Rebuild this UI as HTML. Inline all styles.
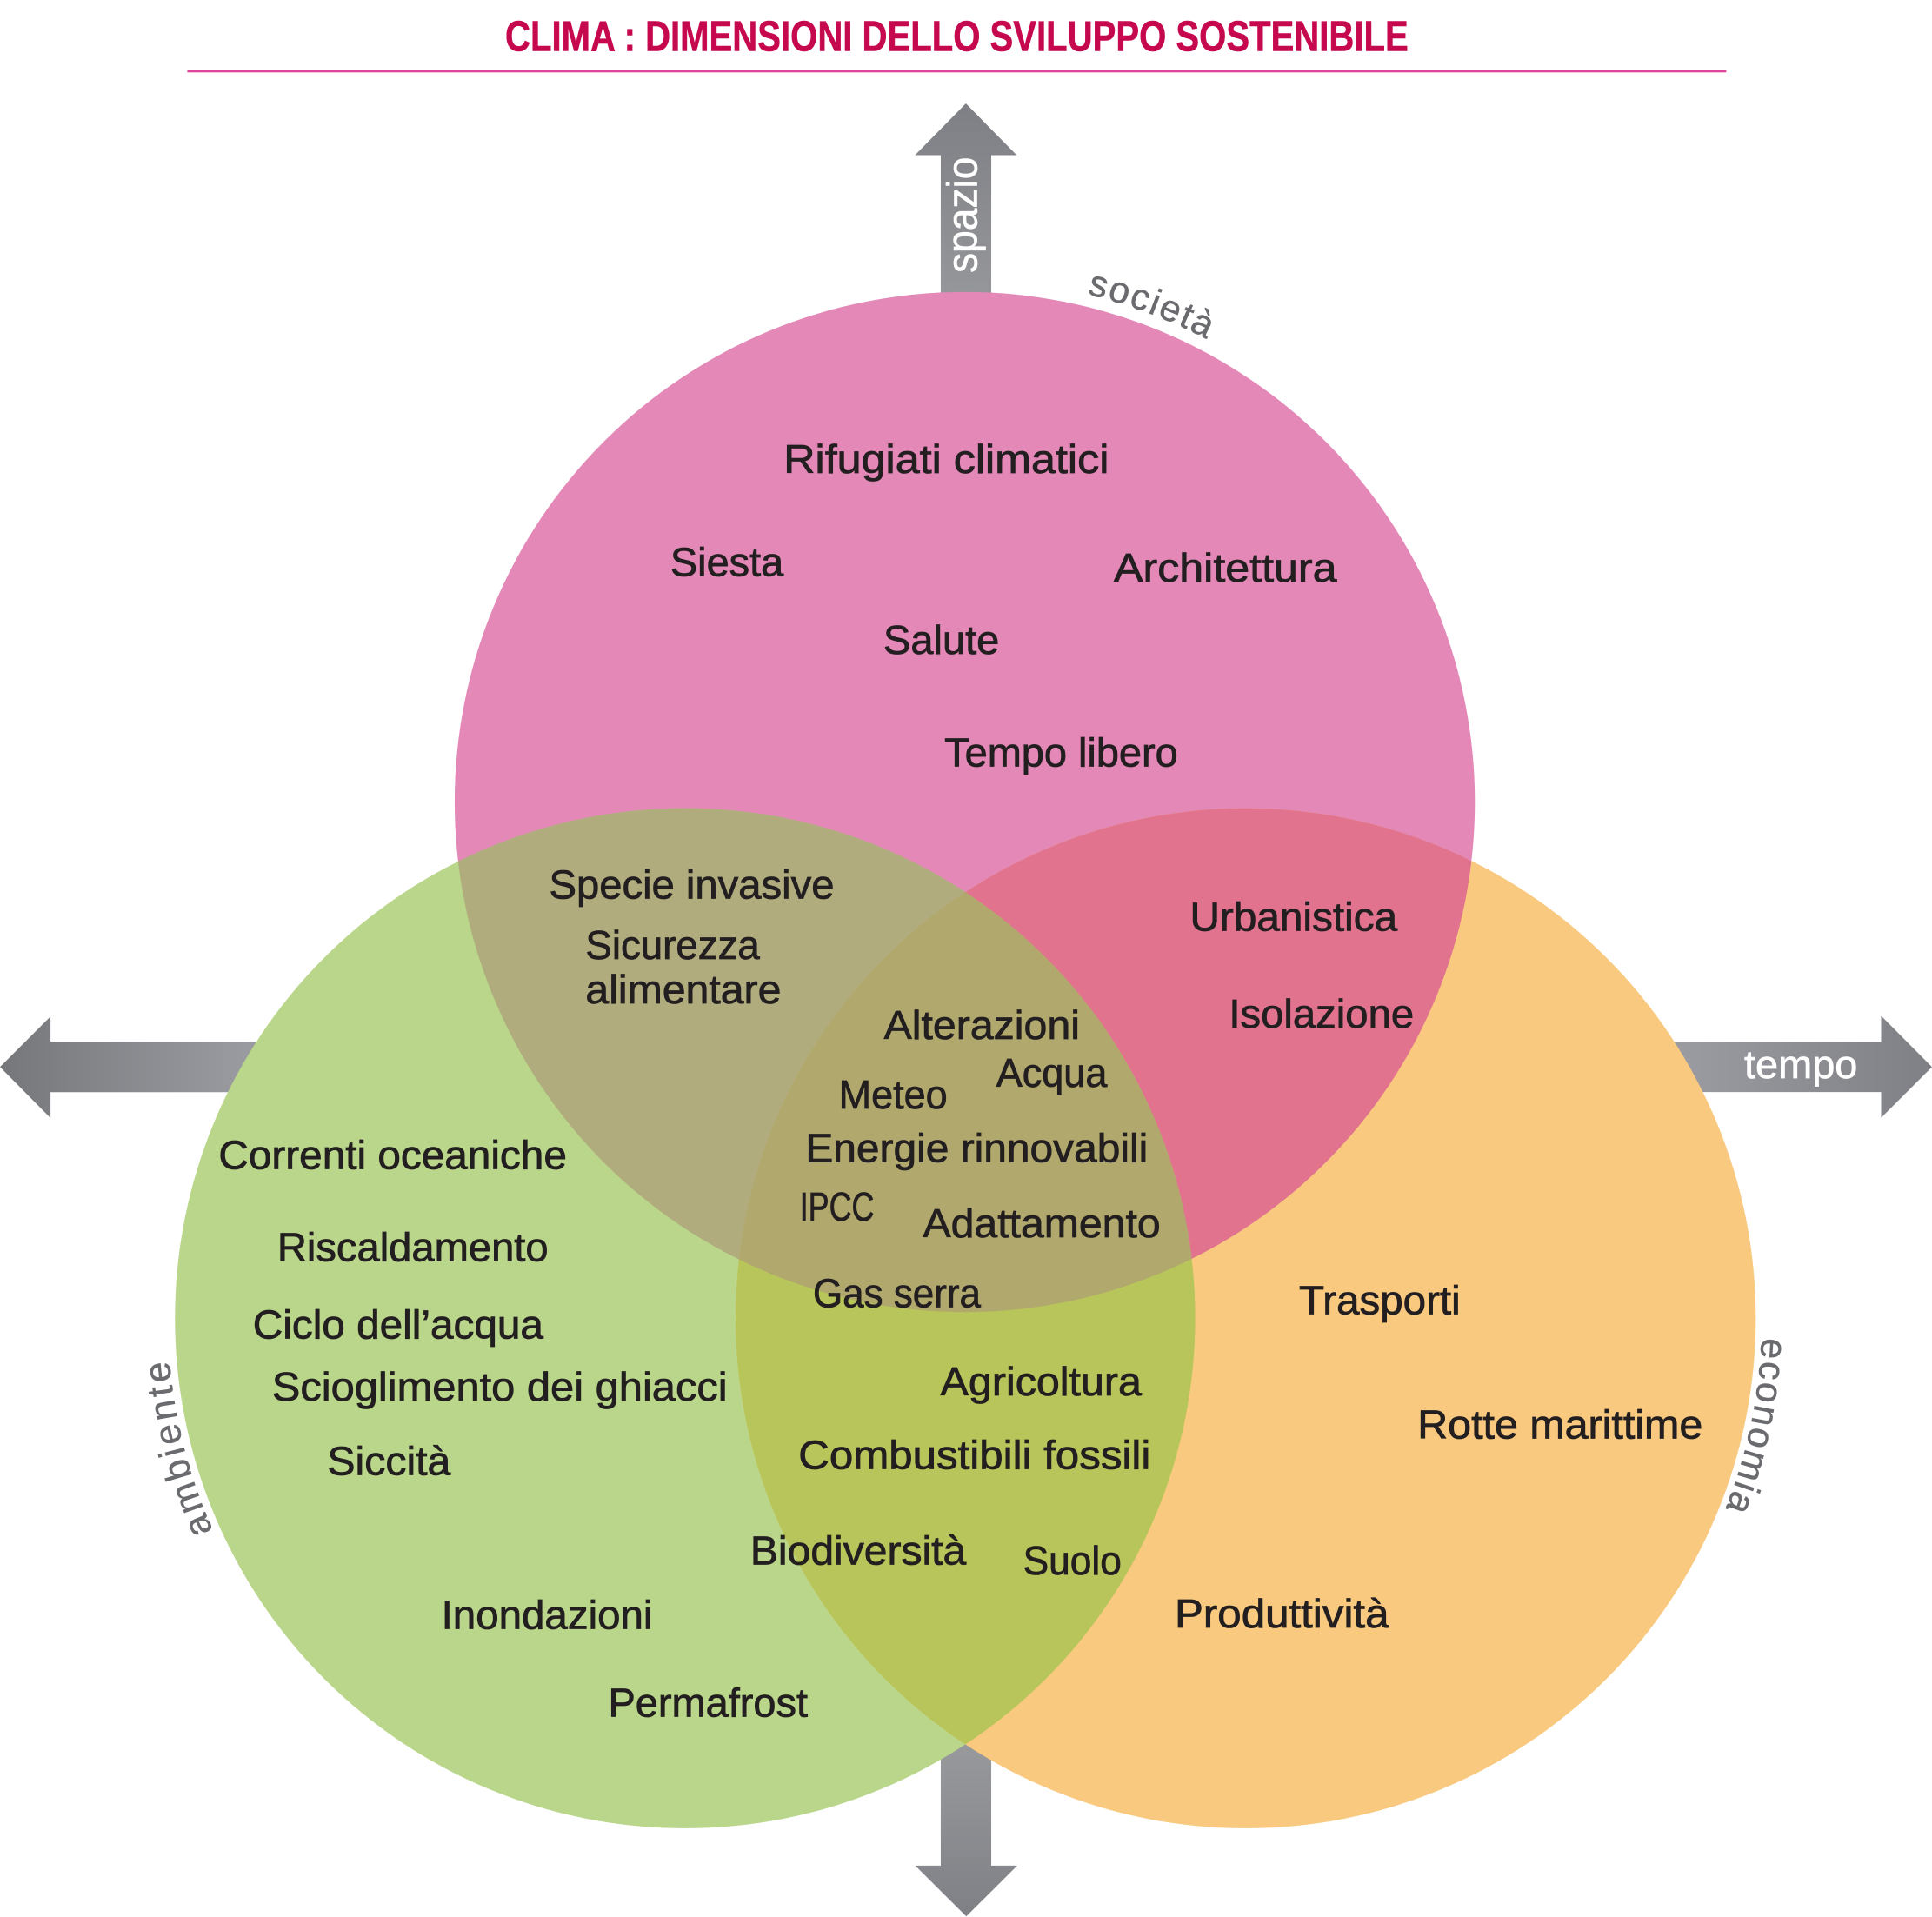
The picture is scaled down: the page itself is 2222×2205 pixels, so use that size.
<!DOCTYPE html>
<html>
<head>
<meta charset="utf-8">
<style>
  html, body { margin: 0; padding: 0; background: #ffffff; }
  body { width: 2222px; height: 2205px; overflow: hidden; }
  svg { display: block; }
  .lbl { font-family: "Liberation Sans", "DejaVu Sans", sans-serif; font-size: 33px; fill: #231F20; stroke: #231F20; stroke-width: 0.55px; }
  .axis { font-family: "Liberation Sans", "DejaVu Sans", sans-serif; fill: #ffffff; stroke: #ffffff; stroke-width: 0.45px; }
  .dim { font-family: "Liberation Sans", "DejaVu Sans", sans-serif; font-size: 30px; fill: #6A6B6F; stroke: #6A6B6F; stroke-width: 0.35px; }
</style>
</head>
<body>
<svg xmlns="http://www.w3.org/2000/svg" width="2222" height="2205" viewBox="0 0 1568 1556" preserveAspectRatio="none">
  <defs>
    <linearGradient id="gUp" gradientUnits="userSpaceOnUse" x1="0" y1="84" x2="0" y2="237">
      <stop offset="0" stop-color="#7E7F84"/>
      <stop offset="1" stop-color="#95969A"/>
    </linearGradient>
    <linearGradient id="gDown" gradientUnits="userSpaceOnUse" x1="0" y1="1416" x2="0" y2="1555">
      <stop offset="0" stop-color="#98999D"/>
      <stop offset="1" stop-color="#7F8085"/>
    </linearGradient>
    <linearGradient id="gLeft" gradientUnits="userSpaceOnUse" x1="0" y1="0" x2="200" y2="0">
      <stop offset="0" stop-color="#76777B"/>
      <stop offset="1" stop-color="#9A9BA0"/>
    </linearGradient>
    <linearGradient id="gRight" gradientUnits="userSpaceOnUse" x1="1368" y1="0" x2="1568" y2="0">
      <stop offset="0" stop-color="#9A9BA0"/>
      <stop offset="1" stop-color="#7F8085"/>
    </linearGradient>
    <clipPath id="cP"><circle cx="783" cy="651" r="414"/></clipPath>
    <clipPath id="cG"><circle cx="556" cy="1070" r="414"/></clipPath>
    <path id="pP" d="M783,227 A424,424 0 1 1 783,1075 A424,424 0 1 1 783,227"/>
    <path id="pG" d="M556,650 A420,420 0 1 1 556,1490 A420,420 0 1 1 556,650"/>
    <path id="pO" d="M1011,651 A419,419 0 1 1 1011,1489 A419,419 0 1 1 1011,651"/>
  </defs>

  <rect x="0" y="0" width="1568" height="1556" fill="#ffffff"/>

  <!-- Title -->
  <text x="410" y="41.2" font-family="Liberation Sans, DejaVu Sans, sans-serif" font-weight="bold" font-size="35" fill="#C6084F" stroke="#C6084F" stroke-width="0.4" textLength="733" lengthAdjust="spacingAndGlyphs">CLIMA : DIMENSIONI DELLO SVILUPPO SOSTENIBILE</text>
  <rect x="152" y="57" width="1249" height="1.8" fill="#E2449B"/>

  <!-- Arrows (behind circles) -->
  <polygon points="763.5,300 763.5,126 742.6,126 783.9,84 825.2,126 804.5,126 804.5,300" fill="url(#gUp)"/>
  <polygon points="763.5,1380 763.5,1514.3 742.8,1514.3 784.2,1555.5 825.6,1514.3 804.5,1514.3 804.5,1380" fill="url(#gDown)"/>
  <polygon points="300,845.5 41,845.5 41,825 0,866 41,907.5 41,886.5 300,886.5" fill="url(#gLeft)"/>
  <polygon points="1260,845.7 1526.7,845.7 1526.7,824.5 1568,866 1526.7,907.3 1526.7,886.4 1260,886.4" fill="url(#gRight)"/>

  <!-- Circles -->
  <circle cx="783" cy="651" r="414" fill="#E388B7"/>
  <circle cx="556" cy="1070" r="414" fill="#B9D68A"/>
  <circle cx="1011" cy="1070" r="414" fill="#F8C97F"/>

  <!-- Overlaps -->
  <circle cx="556" cy="1070" r="414" fill="#B0AC7D" clip-path="url(#cP)"/>
  <circle cx="1011" cy="1070" r="414" fill="#E1738F" clip-path="url(#cP)"/>
  <circle cx="1011" cy="1070" r="414" fill="#B8C55A" clip-path="url(#cG)"/>
  <g clip-path="url(#cG)">
    <circle cx="1011" cy="1070" r="414" fill="#B1A86E" clip-path="url(#cP)"/>
  </g>

  <!-- Axis labels -->
  <text class="axis" font-size="35" transform="translate(792.8,221.5) rotate(-90)" x="0" y="0" textLength="94" lengthAdjust="spacingAndGlyphs">spazio</text>
  <text class="axis" font-size="32" x="1415.6" y="875" textLength="92" lengthAdjust="spacingAndGlyphs">tempo</text>

  <!-- Dimension labels along circles -->
  <text class="dim" letter-spacing="1.5"><textPath href="#pP" startOffset="100">società</textPath></text>
  <text class="dim" letter-spacing="2.8"><textPath href="#pG" startOffset="1801">ambiente</textPath></text>
  <text class="dim" letter-spacing="1.7"><textPath href="#pO" startOffset="674">economia</textPath></text>

  <!-- Società -->
  <text class="lbl" x="636" y="384" textLength="264" lengthAdjust="spacingAndGlyphs">Rifugiati climatici</text>
  <text class="lbl" x="544" y="467.5" textLength="92" lengthAdjust="spacingAndGlyphs">Siesta</text>
  <text class="lbl" x="904" y="472" textLength="181" lengthAdjust="spacingAndGlyphs">Architettura</text>
  <text class="lbl" x="717" y="530.7" textLength="94" lengthAdjust="spacingAndGlyphs">Salute</text>
  <text class="lbl" x="766.5" y="622" textLength="189.5" lengthAdjust="spacingAndGlyphs">Tempo libero</text>

  <!-- Società ∩ Ambiente -->
  <text class="lbl" x="445.6" y="729.3" textLength="231.5" lengthAdjust="spacingAndGlyphs">Specie invasive</text>
  <text class="lbl" x="475.2" y="778.4" textLength="141.4" lengthAdjust="spacingAndGlyphs">Sicurezza</text>
  <text class="lbl" x="475.2" y="814.4" textLength="158.8" lengthAdjust="spacingAndGlyphs">alimentare</text>

  <!-- Società ∩ Economia -->
  <text class="lbl" x="965.7" y="755.4" textLength="168.4" lengthAdjust="spacingAndGlyphs">Urbanistica</text>
  <text class="lbl" x="997.4" y="834.2" textLength="150.1" lengthAdjust="spacingAndGlyphs">Isolazione</text>

  <!-- Center -->
  <text class="lbl" x="717.4" y="843.2" textLength="159" lengthAdjust="spacingAndGlyphs">Alterazioni</text>
  <text class="lbl" x="808.5" y="882.1" textLength="90.1" lengthAdjust="spacingAndGlyphs">Acqua</text>
  <text class="lbl" x="680.7" y="899.8" textLength="88.2" lengthAdjust="spacingAndGlyphs">Meteo</text>
  <text class="lbl" x="653.7" y="943.3" textLength="278" lengthAdjust="spacingAndGlyphs">Energie rinnovabili</text>
  <text class="lbl" x="649" y="990.8" textLength="60.5" lengthAdjust="spacingAndGlyphs">IPCC</text>
  <text class="lbl" x="749.1" y="1004.2" textLength="192.7" lengthAdjust="spacingAndGlyphs">Adattamento</text>
  <text class="lbl" x="659.8" y="1061" textLength="136.2" lengthAdjust="spacingAndGlyphs">Gas serra</text>

  <!-- Ambiente ∩ Economia -->
  <text class="lbl" x="763.3" y="1132.7" textLength="163.2" lengthAdjust="spacingAndGlyphs">Agricoltura</text>
  <text class="lbl" x="648" y="1192.4" textLength="285.8" lengthAdjust="spacingAndGlyphs">Combustibili fossili</text>
  <text class="lbl" x="608.9" y="1269.9" textLength="175.3" lengthAdjust="spacingAndGlyphs">Biodiversità</text>
  <text class="lbl" x="830.3" y="1277.8" textLength="79.9" lengthAdjust="spacingAndGlyphs">Suolo</text>

  <!-- Ambiente -->
  <text class="lbl" x="177.4" y="948.6" textLength="282.6" lengthAdjust="spacingAndGlyphs">Correnti oceaniche</text>
  <text class="lbl" x="225" y="1023.5" textLength="220" lengthAdjust="spacingAndGlyphs">Riscaldamento</text>
  <text class="lbl" x="205.2" y="1086.5" textLength="235.8" lengthAdjust="spacingAndGlyphs">Ciclo dell’acqua</text>
  <text class="lbl" x="220.7" y="1136.7" textLength="369.7" lengthAdjust="spacingAndGlyphs">Scioglimento dei ghiacci</text>
  <text class="lbl" x="265.6" y="1197.1" textLength="100.2" lengthAdjust="spacingAndGlyphs">Siccità</text>
  <text class="lbl" x="358.2" y="1322.1" textLength="171.4" lengthAdjust="spacingAndGlyphs">Inondazioni</text>
  <text class="lbl" x="493.6" y="1393.4" textLength="162" lengthAdjust="spacingAndGlyphs">Permafrost</text>

  <!-- Economia -->
  <text class="lbl" x="1054.3" y="1066.5" textLength="131" lengthAdjust="spacingAndGlyphs">Trasporti</text>
  <text class="lbl" x="1150.4" y="1167.6" textLength="231.5" lengthAdjust="spacingAndGlyphs">Rotte marittime</text>
  <text class="lbl" x="953.4" y="1320.9" textLength="173.9" lengthAdjust="spacingAndGlyphs">Produttività</text>
</svg>
</body>
</html>
